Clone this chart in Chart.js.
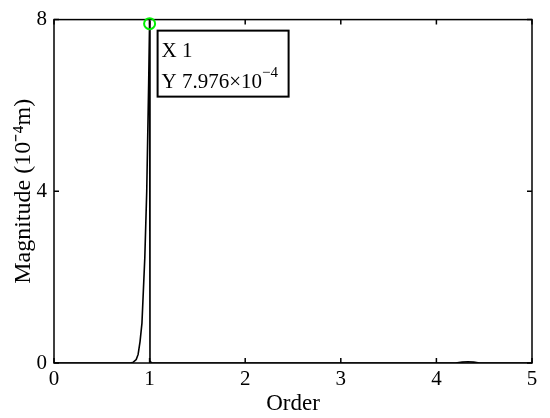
<!DOCTYPE html>
<html>
<head>
<meta charset="utf-8">
<script src="https://cdn.jsdelivr.net/npm/chart.js@4/dist/chart.umd.min.js"></script>
<style>
  body { margin: 0; background: #fff; }
  #wrap { width: 550px; height: 418px; }
</style>
</head>
<body>
<div id="wrap"><canvas id="myChart"></canvas></div>
<script>
// spectrum (Order vs Magnitude in 10^-4 m)
var orders     = [0, 0.5, 0.80, 0.83, 0.86, 0.88, 0.90, 0.92, 0.95, 0.97, 0.99, 1.0, 1.004, 1.02, 2, 3, 4.2, 4.27, 4.33, 4.39, 4.45, 5];
var magnitudes = [0, 0,   0,    0.02, 0.08, 0.20, 0.50, 0.93, 2.46, 4.00, 6.50, 7.976, 0.05, 0,  0, 0, 0,   0.02, 0.03, 0.02, 0,    0];
var xTicks = [0, 1, 2, 3, 4, 5];
var yTicks = [0, 4, 8];
var peakOrder = 1;
var peakMag = 7.976;

var points = orders.map(function (o, i) { return { x: o, y: magnitudes[i] }; });

var serif = "'Liberation Serif', 'Times New Roman', serif";

// MATLAB-like box with inward ticks
var framePlugin = {
  id: 'frame',
  afterDraw: function (chart) {
    var ctx = chart.ctx, a = chart.chartArea;
    var xs = chart.scales.x, ys = chart.scales.y;
    ctx.save();
    ctx.strokeStyle = '#000';
    ctx.lineWidth = 1.5;
    ctx.strokeRect(a.left, a.top, a.right - a.left, a.bottom - a.top);
    ctx.beginPath();
    xTicks.forEach(function (t) {
      var px = xs.getPixelForValue(t);
      ctx.moveTo(px, a.bottom); ctx.lineTo(px, a.bottom - 5);
      ctx.moveTo(px, a.top); ctx.lineTo(px, a.top + 5);
    });
    yTicks.forEach(function (t) {
      var py = ys.getPixelForValue(t);
      ctx.moveTo(a.left, py); ctx.lineTo(a.left + 5, py);
      ctx.moveTo(a.right, py); ctx.lineTo(a.right - 5, py);
    });
    ctx.stroke();
    ctx.restore();
  }
};

// data tip at the peak
var tipPlugin = {
  id: 'tip',
  afterDraw: function (chart) {
    var ctx = chart.ctx;
    var px = chart.scales.x.getPixelForValue(peakOrder);
    var py = chart.scales.y.getPixelForValue(peakMag);
    ctx.save();
    ctx.strokeStyle = '#00ee00';
    ctx.lineWidth = 2;
    ctx.beginPath();
    ctx.arc(px, py + 3, 5.5, 0, Math.PI * 2);
    ctx.stroke();

    var bx = px + 8, by = py + 10, bw = 131, bh = 66;
    ctx.fillStyle = '#fff';
    ctx.fillRect(bx, by, bw, bh);
    ctx.strokeStyle = '#000';
    ctx.lineWidth = 2;
    ctx.strokeRect(bx, by, bw, bh);

    ctx.fillStyle = '#000';
    ctx.textBaseline = 'alphabetic';
    ctx.font = '21px ' + serif;
    ctx.fillText('X 1', bx + 4, by + 26);
    var s = 'Y 7.976\u00d710';
    ctx.fillText(s, bx + 4, by + 57);
    var w = ctx.measureText(s).width;
    ctx.font = '15px ' + serif;
    ctx.fillText('\u2212' + '4', bx + 4 + w, by + 46);
    ctx.restore();
  }
};

var ctx = document.getElementById('myChart').getContext('2d');
var chart = new Chart(ctx, {
  type: 'line',
  data: {
    datasets: [{
      data: points,
      borderColor: '#000',
      borderWidth: 1.6,
      pointRadius: 0,
      tension: 0,
      fill: false
    }]
  },
  options: {
    responsive: true,
    maintainAspectRatio: false,
    animation: false,
    events: [],
    layout: { padding: { left: 9, right: 18, top: 18, bottom: 0 } },
    plugins: { legend: { display: false }, tooltip: { enabled: false } },
    scales: {
      x: {
        type: 'linear',
        min: 0, max: 5,
        afterBuildTicks: function (s) { s.ticks = xTicks.map(function (v) { return { value: v }; }); },
        afterFit: function (s) { s.height = 55; },
        grid: { display: false, drawTicks: false },
        border: { display: false },
        ticks: { color: '#000', font: { family: serif, size: 21 }, padding: 4, maxRotation: 0 },
        title: { display: true, text: 'Order', color: '#000', font: { family: serif, size: 23 }, padding: 0 }
      },
      y: {
        min: 0, max: 8,
        afterBuildTicks: function (s) { s.ticks = yTicks.map(function (v) { return { value: v }; }); },
        afterFit: function (s) { s.width = 45; },
        grid: { display: false, drawTicks: false },
        border: { display: false },
        ticks: { color: '#000', font: { family: serif, size: 21 }, padding: 7 },
        title: { display: true, text: 'Magnitude (10\u207b\u2074m)', color: '#000', font: { family: serif, size: 24 }, padding: 0 }
      }
    }
  },
  plugins: [framePlugin, tipPlugin]
});
</script>
</body>
</html>
